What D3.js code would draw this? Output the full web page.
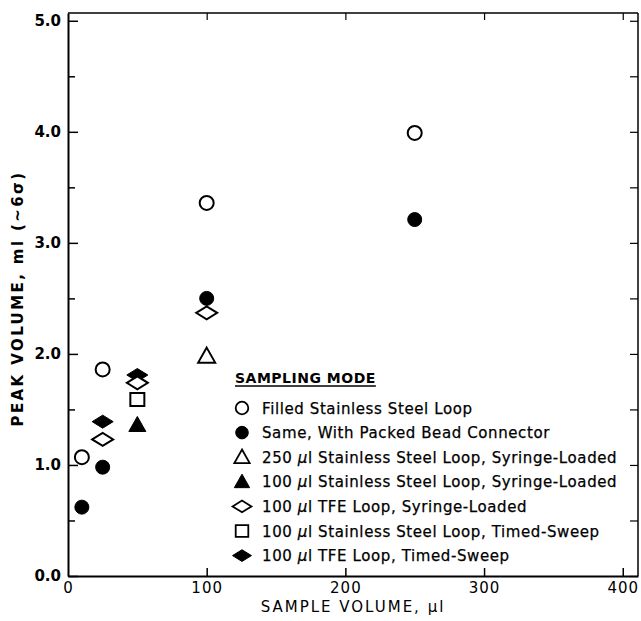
<!DOCTYPE html>
<html>
<head>
<meta charset="utf-8">
<script src="https://cdn.jsdelivr.net/npm/d3@7"></script>
<style>
  html, body { margin: 0; padding: 0; background: #fff; }
  svg { display: block; }
  text { font-family: "DejaVu Sans", sans-serif; fill: #000; }
</style>
</head>
<body>
<svg id="chart" width="641" height="621"></svg>
<script>
// ---------------- DATA ----------------
const legendTitle = "SAMPLING MODE";
const seriesLabels = [
  "Filled Stainless Steel Loop",
  "Same, With Packed Bead Connector",
  "250 µl Stainless Steel Loop, Syringe-Loaded",
  "100 µl Stainless Steel Loop, Syringe-Loaded",
  "100 µl TFE Loop, Syringe-Loaded",
  "100 µl Stainless Steel Loop, Timed-Sweep",
  "100 µl TFE Loop, Timed-Sweep"
];
const seriesShapes = ["circle", "circle", "triangle", "triangle", "diamond", "square", "diamond"];
const seriesFilled = [false, true, false, true, false, false, true];
const sampleVolume = [
  [10, 25, 100, 250],
  [10, 25, 100, 250],
  [100],
  [50],
  [25, 50, 100],
  [50],
  [25, 50]
];
const peakVolume = [
  [1.07, 1.86, 3.36, 3.99],
  [0.62, 0.98, 2.50, 3.21],
  [1.98],
  [1.36],
  [1.23, 1.74, 2.37],
  [1.59],
  [1.39, 1.81]
];
const xTickValues = [0, 100, 200, 300, 400];
const yTickValues = [0, 1, 2, 3, 4, 5];
const yMinorTickValues = [0.5, 1.5, 2.5, 3.5, 4.5];
const xTitle = "SAMPLE VOLUME, µl";
const yTitle = "PEAK VOLUME, ml (~6σ)";
const drawOrder = [1, 0, 2, 3, 6, 5, 4];

// ---------------- CHART ----------------
const svg = d3.select("#chart");
const x = d3.scaleLinear().domain([0, 411]).range([68, 638]);
const y = d3.scaleLinear().domain([0, 5.07]).range([576, 13]);

function shapePath(shape, s) {
  if (shape === "circle") {
    const p = d3.path(); p.arc(0, 0, 7 * s, 0, 2 * Math.PI); p.closePath(); return p.toString();
  }
  if (shape === "triangle") {
    return `M0,${-8.5 * s}L${8.5 * s},${6.5 * s}L${-8.5 * s},${6.5 * s}Z`;
  }
  if (shape === "diamond") {
    return `M${-10.5 * s},0L0,${-6.5 * s}L${10.5 * s},0L0,${6.5 * s}Z`;
  }
  return `M${-7 * s},${-6.5 * s}h${14 * s}v${13 * s}h${-14 * s}Z`;
}

// Frame
const g = svg.append("g");
g.append("line").attr("x1", x(0)).attr("x2", x(411)).attr("y1", y(5.07)).attr("y2", y(5.07))
  .attr("stroke", "#000").attr("stroke-width", 1.5);
g.append("line").attr("x1", x(411)).attr("x2", x(411)).attr("y1", y(5.07)).attr("y2", y(0))
  .attr("stroke", "#000").attr("stroke-width", 1.5);

// Left axis (major)
const yAxis = g.append("g").attr("transform", `translate(${x(0)},0)`)
  .call(d3.axisLeft(y).tickValues(yTickValues).tickFormat(d3.format(".1f"))
    .tickSizeInner(-10).tickSizeOuter(0).tickPadding(7));
yAxis.select(".domain").attr("stroke-width", 2);
yAxis.selectAll(".tick line").attr("stroke-width", 1.5);
yAxis.selectAll(".tick text").style("font-family", "DejaVu Sans").style("font-weight", "bold")
  .style("font-size", "15px").attr("fill", "#000");
// Left minor
g.append("g").attr("transform", `translate(${x(0)},0)`)
  .call(d3.axisLeft(y).tickValues(yMinorTickValues).tickFormat("").tickSizeInner(-7).tickSizeOuter(0))
  .call(a => a.select(".domain").remove())
  .selectAll(".tick line").attr("stroke-width", 1.5);

// Right ticks
g.append("g").attr("transform", `translate(${x(411)},0)`)
  .call(d3.axisRight(y).tickValues(yTickValues.concat(yMinorTickValues)).tickFormat("").tickSizeInner(-8).tickSizeOuter(0))
  .call(a => a.select(".domain").remove())
  .selectAll(".tick line").attr("stroke-width", 1.2);

// Bottom axis
const xAxis = g.append("g").attr("transform", `translate(0,${y(0)})`)
  .call(d3.axisBottom(x).tickValues(xTickValues).tickFormat(d3.format("d"))
    .tickSizeInner(-8).tickSizeOuter(0).tickPadding(6));
xAxis.select(".domain").attr("stroke-width", 2);
xAxis.selectAll(".tick line").attr("stroke-width", 1.5).filter(d => d === 0).remove();
xAxis.selectAll(".tick text").style("font-family", "DejaVu Sans").style("font-size", "15px")
  .style("letter-spacing", "1px").attr("fill", "#000");

// Top ticks
g.append("g").attr("transform", `translate(0,${y(5.07)})`)
  .call(d3.axisTop(x).tickValues(xTickValues.slice(1)).tickFormat("").tickSizeInner(-7).tickSizeOuter(0))
  .call(a => a.select(".domain").remove())
  .selectAll(".tick line").attr("stroke-width", 1.2);

// Axis titles
svg.append("text").attr("x", (x(0) + x(411)) / 2).attr("y", 612)
  .attr("text-anchor", "middle").style("font-size", "15px").style("letter-spacing", "2px")
  .text(xTitle);
svg.append("text").attr("transform", `translate(23,${(y(0) + y(5.07)) / 2 + 4}) rotate(-90)`)
  .attr("text-anchor", "middle").style("font-size", "15px").style("font-weight", "bold")
  .style("letter-spacing", "2.4px").text(yTitle);

// Data points
const plot = svg.append("g");
drawOrder.forEach(i => {
  const pts = sampleVolume[i].map((v, k) => [v, peakVolume[i][k]]);
  plot.selectAll(null).data(pts).enter().append("path")
    .attr("transform", d => `translate(${x(d[0])},${y(d[1])})`)
    .attr("d", shapePath(seriesShapes[i], 1))
    .attr("fill", seriesFilled[i] ? "#000" : "#fff")
    .attr("stroke", "#000")
    .attr("stroke-width", seriesFilled[i] ? 1 : 2);
});

// Legend
const legend = svg.append("g").attr("transform", "translate(235,0)");
const titleText = legend.append("text").attr("x", 0).attr("y", 383)
  .style("font-size", "14px").style("font-weight", "bold").style("letter-spacing", "0.5px")
  .text(legendTitle);
const tw = titleText.node().getComputedTextLength();
legend.append("line").attr("x1", 0).attr("x2", tw).attr("y1", 386).attr("y2", 386)
  .attr("stroke", "#000").attr("stroke-width", 1.5);

const rows = legend.selectAll("g.row").data(seriesLabels).enter().append("g")
  .attr("class", "row")
  .attr("transform", (d, i) => `translate(0,${408 + i * 24.6})`);
rows.append("path")
  .attr("transform", "translate(7,0)")
  .attr("d", (d, i) => shapePath(seriesShapes[i], 0.9))
  .attr("fill", (d, i) => seriesFilled[i] ? "#000" : "#fff")
  .attr("stroke", "#000")
  .attr("stroke-width", (d, i) => seriesFilled[i] ? 1 : 1.8);
rows.append("text").attr("x", 27).attr("y", 5.5)
  .style("font-size", "15px").style("letter-spacing", "0.6px")
  .style("stroke", "#000").style("stroke-width", "0.25px")
  .each(function (d) {
    const parts = d.split("µ");
    const t = d3.select(this);
    parts.forEach((p, k) => {
      if (k > 0) t.append("tspan").style("font-style", "italic").text("µ");
      t.append("tspan").text(p);
    });
  });
</script>
</body>
</html>
